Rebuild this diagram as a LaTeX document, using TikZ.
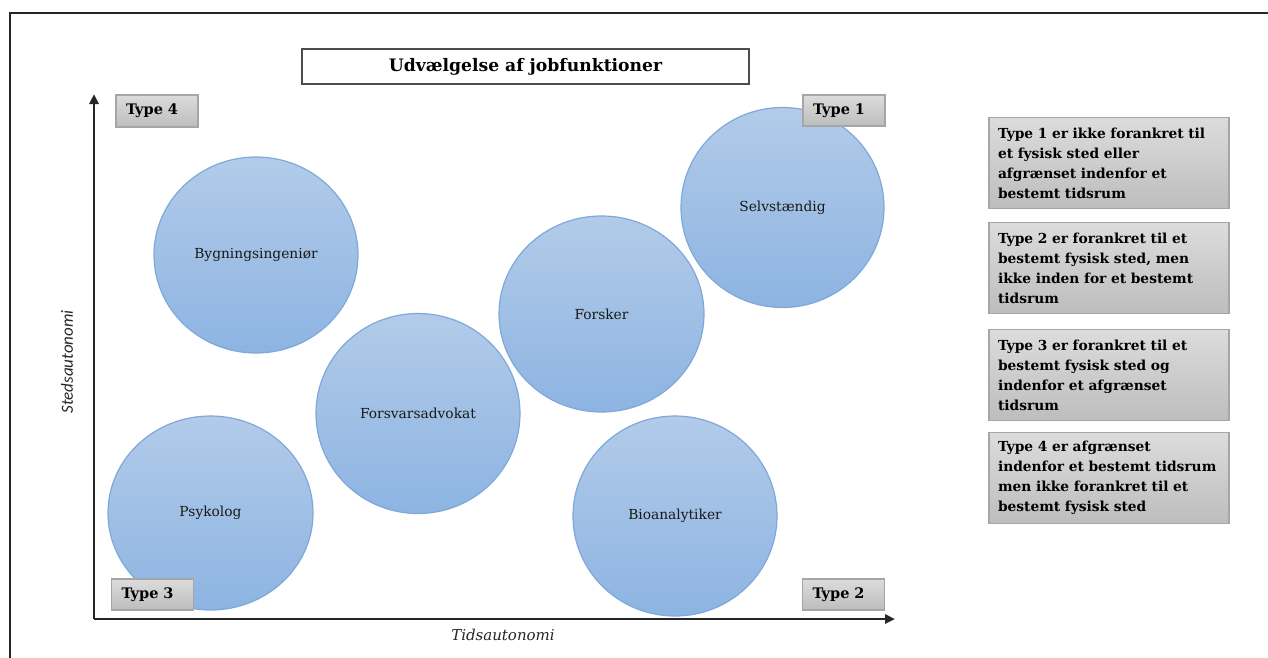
\documentclass[tikz,border=0pt]{standalone}
\usepackage{fontspec}
\setmainfont{DejaVu Serif}
\newfontfamily\axisfont{Carlito}
\usetikzlibrary{shapes.geometric,arrows.meta}
\definecolor{circtop}{HTML}{B2CBE9}
\definecolor{circbot}{HTML}{8DB4E2}
\definecolor{circline}{HTML}{7FA8DA}
\definecolor{boxtop}{HTML}{DCDCDC}
\definecolor{boxbot}{HTML}{BDBDBD}
\definecolor{boxline}{HTML}{A6A6A6}
\definecolor{axisc}{HTML}{262626}
\tikzset{
  job/.style={ellipse, draw=circline, line width=1.2pt, top color=circtop, bottom color=circbot,
    font=\fontsize{13.8}{16}\selectfont, text=black!90},
  typebox/.style={rectangle, draw=boxline, line width=1.2pt, top color=boxtop, bottom color=boxbot,
    font=\bfseries\fontsize{14.5}{16}\selectfont, align=left, text width=62pt, inner xsep=10pt, inner ysep=0pt},
  descbox/.style={rectangle, draw=boxline, line width=1.2pt, top color=boxtop, bottom color=boxbot,
    font=\bfseries\fontsize{13.8}{20}\selectfont, align=left, text width=222pt, inner xsep=9pt,
    minimum height=91pt, anchor=north},
  titlebox/.style={rectangle, draw=black!70, line width=1.5pt, fill=white, minimum width=447pt, minimum height=35pt,
    font=\bfseries\fontsize{17.2}{20}\selectfont},
  axisline/.style={draw=axisc, line width=2.6pt, -{Triangle[length=10pt,width=9pt]}},
  framel/.style={draw=black!85, line width=2pt}
}
\begin{document}
\begin{tikzpicture}[x=1pt,y=-1pt]
\useasboundingbox (0,0) rectangle (1268,657);
% frame
\coordinate (FB) at (9.5,660);
\coordinate (FC) at (9.5,12.5);
\coordinate (FR) at (1270,12.5);
\draw[framel] (FB) -- (FC) -- (FR);
% title
\node[titlebox] (title) at (525.5,66.5) {Udvælgelse af jobfunktioner};
% circles
\node[job, minimum width=204pt, minimum height=196pt] (byg) at (256,255) {Bygningsingeniør};
\node[job, minimum width=203pt, minimum height=200pt] (selv) at (782.5,207.5) {Selvstændig};
\node[job, minimum width=205pt, minimum height=196pt] (fors) at (601.5,314) {Forsker};
\node[job, minimum width=204pt, minimum height=200pt] (adv) at (418,413.5) {Forsvarsadvokat};
\node[job, minimum width=205pt, minimum height=194pt] (psy) at (210.5,513) {Psykolog};
\node[job, minimum width=204pt, minimum height=200pt] (bio) at (675,516) {Bioanalytiker};
% axes
\coordinate (O) at (94,619);
\coordinate (Ytip) at (94,94);
\coordinate (Xtip) at (895,619);
\draw[axisline] (O) -- (Ytip);
\draw[axisline] (O) -- (Xtip);
\node[font=\axisfont\itshape\fontsize{17}{19}\selectfont, rotate=90, text=black!85] (ylab) at (67,362) {Stedsautonomi};
\node[font=\itshape\fontsize{15}{17}\selectfont, text=black!85] (xlab) at (503,635) {Tidsautonomi};
% type boxes
\node[typebox, minimum height=32pt] (t4) at (157,111) {Type 4};
\node[typebox, minimum height=31pt] (t1) at (844,110.5) {Type 1};
\node[typebox, minimum height=31pt] (t3) at (152.5,594.5) {Type 3};
\node[typebox, minimum height=31pt] (t2) at (843.5,594.5) {Type 2};
% description boxes
\node[descbox] (d1) at (1109,117) {Type 1 er ikke forankret til\\ et fysisk sted eller\\ afgrænset indenfor et\\ bestemt tidsrum};
\node[descbox] (d2) at (1109,222) {Type 2 er forankret til et\\ bestemt fysisk sted, men\\ ikke inden for et bestemt\\ tidsrum};
\node[descbox] (d3) at (1109,329) {Type 3 er forankret til et\\ bestemt fysisk sted og\\ indenfor et afgrænset\\ tidsrum};
\node[descbox] (d4) at (1109,432) {Type 4 er afgrænset\\ indenfor et bestemt tidsrum\\ men ikke forankret til et\\ bestemt fysisk sted};
\end{tikzpicture}
\end{document}
